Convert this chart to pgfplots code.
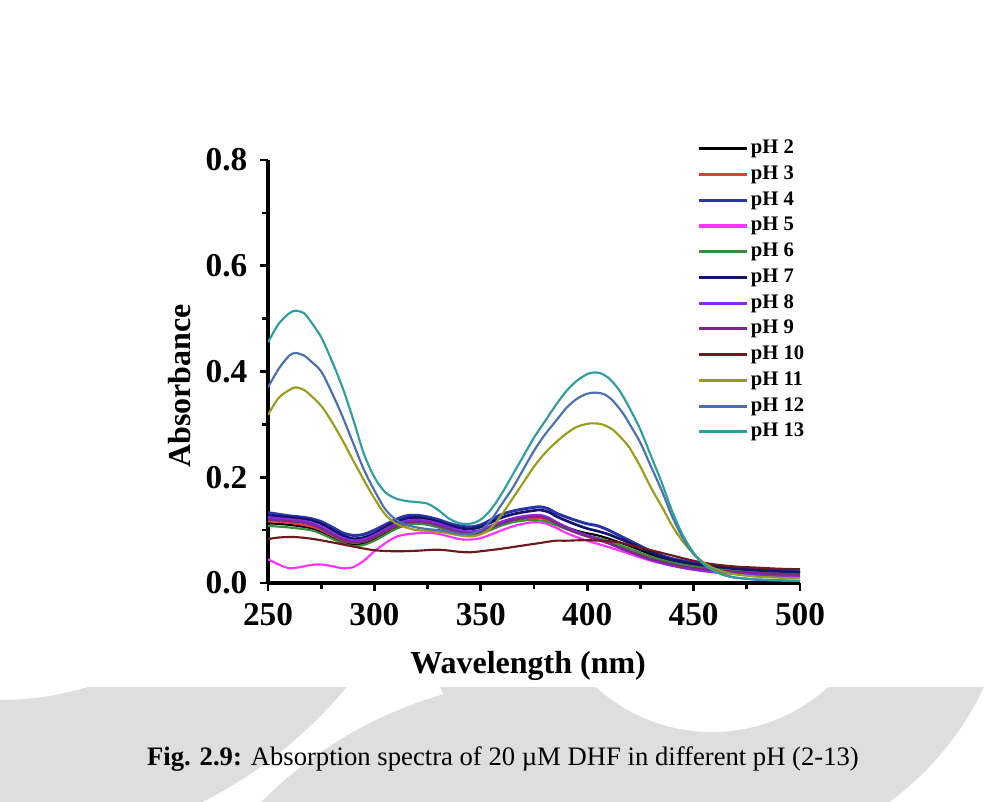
\documentclass[border=0pt]{standalone}
\usepackage{pgfplots}
\pgfplotsset{compat=1.18}
\usepackage{fontspec}
\setmainfont{Liberation Serif}
\definecolor{cA}{RGB}{0,0,0}
\definecolor{cB}{RGB}{228,62,52}
\definecolor{cC}{RGB}{40,52,168}
\definecolor{cD}{RGB}{255,50,255}
\definecolor{cE}{RGB}{58,140,58}
\definecolor{cF}{RGB}{20,20,110}
\definecolor{cG}{RGB}{140,40,230}
\definecolor{cH}{RGB}{122,44,140}
\definecolor{cI}{RGB}{110,26,26}
\definecolor{cJ}{RGB}{156,156,28}
\definecolor{cK}{RGB}{74,112,176}
\definecolor{cL}{RGB}{46,158,158}
\definecolor{wm}{RGB}{222,222,222}
\begin{document}
\begin{tikzpicture}
\path[use as bounding box, fill=white] (0,0) rectangle (753pt,600.75pt);
% faint watermark shapes below the white chart panel
\begin{scope}
\clip (0,0) rectangle (753pt,85.5pt);
\fill[wm, even odd rule] (0pt,300.75pt) circle (337.5pt) (0pt,300.75pt) circle (225pt);
\fill[wm] (420pt,-224.25pt) circle (316.5pt);
\fill[wm] (534pt,180.75pt) circle (225pt);
\fill[white] (534pt,180.75pt) circle (129pt);
\end{scope}
\begin{axis}[
 at={(201pt,163.5pt)}, anchor=south west,
 scale only axis, width=399pt, height=317.25pt,
 xmin=250, xmax=500, ymin=0, ymax=0.8,
 axis x line*=bottom, axis y line*=left,
 axis line style={line width=2.3pt},
 every tick/.append style={line width=2pt, black},
 tick align=outside,
 major tick length=6pt, minor tick length=4.5pt,
 xtick={250,300,350,400,450,500}, ytick={0,0.2,0.4,0.6,0.8},
 minor x tick num=1, minor y tick num=1,
 /pgf/number format/assume math mode=true,
 tick label style={font=\fontsize{25}{25}\selectfont\bfseries},
 xticklabel style={yshift=-6pt},
 yticklabel style={xshift=-6pt, /pgf/number format/.cd, fixed, fixed zerofill, precision=1},
 xlabel={Wavelength (nm)}, ylabel={Absorbance},
 label style={font=\fontsize{24}{24}\selectfont\bfseries},
 xlabel style={at={(axis description cs:0.489,-0.196)}, anchor=center},
 ylabel style={at={(axis description cs:-0.167,0.466)}, anchor=center},
 legend style={draw=none, fill=none, at={(axis description cs:0.806,1.05)}, anchor=north west,
   font=\fontsize{15.5}{15.5}\selectfont\bfseries, inner sep=0pt, row sep=4.8pt,
   nodes={inner sep=0pt, text height=11pt, text depth=3.5pt},
   /tikz/every odd column/.append style={column sep=2pt}},
 legend image code/.code={\draw[#1, line width=2.3pt] (0pt,0pt) -- (36pt,0pt);},
 legend cell align=left,
 every axis plot/.append style={line width=1.6pt, line join=round, smooth, tension=0.5},
]
% pH 2
\addplot[cA] table {
250 0.113
260 0.110
270 0.104
275 0.097
280 0.088
285 0.078
290 0.073
295 0.075
300 0.083
305 0.094
310 0.105
315 0.112
320 0.115
325 0.113
330 0.108
335 0.101
340 0.095
345 0.093
350 0.096
355 0.104
360 0.112
365 0.118
370 0.122
375 0.124
380 0.122
385 0.114
390 0.106
395 0.099
400 0.094
405 0.090
410 0.084
415 0.077
420 0.070
425 0.062
430 0.054
435 0.047
440 0.042
445 0.038
450 0.035
460 0.030
470 0.027
480 0.025
490 0.023
500 0.022
};
\addlegendentry{pH 2}
% pH 3
\addplot[cB] table {
250 0.117
260 0.114
270 0.107
275 0.100
280 0.090
285 0.080
290 0.076
295 0.078
300 0.086
305 0.097
310 0.107
315 0.113
320 0.115
325 0.113
330 0.108
335 0.101
340 0.096
345 0.094
350 0.097
355 0.105
360 0.113
365 0.119
370 0.122
375 0.123
380 0.121
385 0.113
390 0.104
395 0.096
400 0.090
405 0.085
410 0.079
415 0.071
420 0.063
425 0.055
430 0.048
435 0.042
440 0.037
445 0.033
450 0.030
460 0.026
470 0.023
480 0.021
490 0.019
500 0.018
};
\addlegendentry{pH 3}
% pH 4
\addplot[cC, line width=2.2pt] table {
250 0.133
255 0.130
260 0.127
265 0.125
270 0.122
275 0.116
280 0.106
285 0.095
290 0.090
295 0.092
300 0.100
305 0.110
310 0.120
315 0.127
320 0.128
325 0.125
330 0.120
335 0.113
340 0.108
345 0.106
350 0.110
355 0.120
360 0.130
365 0.136
370 0.140
375 0.143
378 0.144
382 0.140
385 0.133
390 0.125
395 0.118
400 0.112
405 0.108
410 0.100
415 0.090
420 0.080
425 0.070
430 0.060
435 0.052
440 0.046
445 0.042
450 0.038
460 0.033
470 0.029
480 0.026
490 0.023
500 0.021
};
\addlegendentry{pH 4}
% pH 5
\addplot[cD] table {
250 0.045
255 0.035
260 0.028
265 0.030
270 0.034
275 0.035
280 0.032
285 0.028
290 0.030
295 0.042
300 0.060
305 0.075
310 0.087
315 0.092
320 0.094
325 0.095
330 0.093
335 0.088
340 0.083
345 0.082
350 0.085
355 0.092
360 0.100
365 0.107
370 0.112
375 0.115
380 0.113
385 0.105
390 0.095
395 0.087
400 0.080
410 0.068
420 0.055
430 0.042
440 0.033
450 0.025
460 0.020
480 0.015
500 0.012
};
\addlegendentry{pH 5}
% pH 6
\addplot[cE] table {
250 0.108
260 0.105
270 0.100
275 0.093
280 0.084
285 0.075
290 0.070
295 0.072
300 0.080
305 0.091
310 0.102
315 0.109
320 0.112
325 0.110
330 0.105
335 0.098
340 0.092
345 0.090
350 0.093
355 0.101
360 0.109
365 0.115
370 0.118
375 0.119
380 0.117
385 0.110
390 0.102
395 0.095
400 0.089
405 0.085
410 0.079
415 0.072
420 0.065
425 0.057
430 0.050
435 0.044
440 0.039
445 0.035
450 0.032
460 0.028
470 0.025
480 0.023
490 0.021
500 0.020
};
\addlegendentry{pH 6}
% pH 7
\addplot[cF, line width=2pt] table {
250 0.128
255 0.126
260 0.124
265 0.122
270 0.119
275 0.112
280 0.101
285 0.090
290 0.084
295 0.086
300 0.094
305 0.105
310 0.115
315 0.122
320 0.124
325 0.121
330 0.116
335 0.109
340 0.104
345 0.102
350 0.106
355 0.115
360 0.124
365 0.130
370 0.134
375 0.137
378 0.138
382 0.134
385 0.127
390 0.118
395 0.110
400 0.103
405 0.098
410 0.092
415 0.084
420 0.076
425 0.067
430 0.058
435 0.050
440 0.044
445 0.040
450 0.036
460 0.031
470 0.027
480 0.024
490 0.022
500 0.020
};
\addlegendentry{pH 7}
% pH 8
\addplot[cG, line width=2pt] table {
250 0.124
255 0.122
260 0.120
265 0.118
270 0.114
275 0.106
280 0.095
285 0.085
290 0.080
295 0.082
300 0.090
305 0.101
310 0.111
315 0.117
320 0.119
325 0.117
330 0.112
335 0.105
340 0.099
345 0.097
350 0.100
355 0.108
360 0.116
365 0.122
370 0.126
375 0.128
378 0.128
382 0.123
385 0.116
390 0.106
395 0.097
400 0.090
405 0.083
410 0.076
415 0.067
420 0.059
425 0.051
430 0.044
435 0.038
440 0.033
445 0.029
450 0.026
460 0.021
470 0.018
480 0.016
490 0.014
500 0.013
};
\addlegendentry{pH 8}
% pH 9
\addplot[cH, line width=1.8pt] table {
250 0.120
255 0.119
260 0.117
265 0.115
270 0.111
275 0.103
280 0.092
285 0.082
290 0.077
295 0.079
300 0.087
305 0.098
310 0.108
315 0.114
320 0.116
325 0.114
330 0.109
335 0.102
340 0.096
345 0.094
350 0.097
355 0.105
360 0.113
365 0.119
370 0.123
375 0.125
378 0.125
382 0.121
385 0.114
390 0.104
395 0.095
400 0.088
405 0.082
410 0.075
415 0.067
420 0.059
425 0.052
430 0.045
435 0.040
440 0.035
445 0.031
450 0.028
460 0.024
470 0.021
480 0.019
490 0.017
500 0.016
};
\addlegendentry{pH 9}
% pH 10
\addplot[cI] table {
250 0.083
255 0.086
262 0.087
270 0.084
280 0.077
290 0.069
300 0.062
310 0.060
320 0.061
330 0.063
340 0.059
345 0.058
350 0.060
360 0.065
370 0.071
380 0.077
385 0.080
390 0.080
400 0.081
410 0.079
415 0.077
420 0.072
430 0.062
440 0.052
450 0.042
460 0.035
470 0.031
480 0.029
490 0.027
500 0.026
};
\addlegendentry{pH 10}
% pH 11
\addplot[cJ] table {
250 0.318
255 0.350
260 0.365
263 0.370
267 0.365
270 0.355
275 0.335
280 0.305
285 0.270
290 0.232
295 0.195
300 0.160
305 0.130
310 0.113
315 0.105
320 0.100
330 0.097
340 0.090
345 0.088
350 0.092
355 0.105
360 0.130
365 0.160
370 0.190
375 0.220
380 0.245
385 0.265
390 0.282
395 0.295
400 0.301
403 0.302
407 0.300
412 0.290
417 0.270
420 0.255
425 0.220
430 0.180
435 0.145
440 0.108
445 0.078
450 0.055
455 0.038
460 0.027
465 0.020
470 0.016
480 0.012
490 0.010
500 0.009
};
\addlegendentry{pH 11}
% pH 12
\addplot[cK] table {
250 0.370
255 0.405
260 0.430
263 0.435
267 0.430
270 0.420
275 0.400
280 0.360
285 0.315
290 0.265
295 0.215
300 0.175
305 0.140
310 0.120
315 0.110
320 0.105
325 0.102
330 0.100
335 0.097
340 0.093
345 0.093
350 0.100
355 0.120
360 0.150
365 0.180
370 0.215
375 0.250
380 0.280
385 0.305
390 0.330
395 0.348
400 0.358
404 0.360
408 0.357
412 0.345
417 0.320
420 0.300
425 0.265
430 0.220
435 0.175
440 0.125
445 0.085
450 0.055
455 0.035
460 0.022
465 0.014
470 0.010
480 0.006
490 0.005
500 0.004
};
\addlegendentry{pH 12}
% pH 13
\addplot[cL] table {
250 0.455
255 0.490
260 0.510
263 0.515
267 0.510
270 0.495
275 0.465
280 0.420
285 0.370
290 0.310
295 0.245
300 0.200
305 0.172
310 0.160
315 0.155
320 0.153
325 0.150
330 0.138
335 0.122
340 0.113
345 0.112
350 0.120
355 0.140
360 0.170
365 0.205
370 0.240
375 0.275
380 0.305
385 0.335
390 0.362
395 0.382
400 0.395
403 0.398
406 0.397
410 0.388
415 0.365
420 0.330
425 0.290
430 0.240
435 0.190
440 0.135
445 0.090
450 0.057
455 0.035
460 0.022
465 0.015
470 0.010
480 0.007
490 0.005
500 0.004
};
\addlegendentry{pH 13}
\end{axis}
\node at (377.25pt,31.5pt) {\fontsize{20}{20}\selectfont\textbf{Fig. 2.9:} Absorption spectra of 20 µM DHF in different pH (2-13)};
\end{tikzpicture}
\end{document}
